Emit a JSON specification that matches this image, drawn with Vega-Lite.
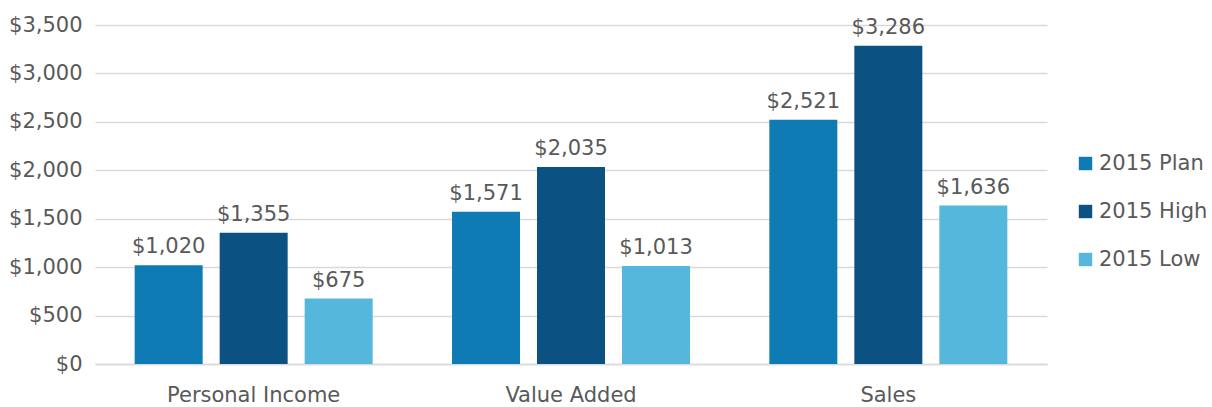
{
  "$schema": "https://vega.github.io/schema/vega-lite/v6.json",
  "width": 952,
  "height": 339,
  "autosize": "none",
  "padding": {"left": 95, "top": 25, "right": 165, "bottom": 43},
  "background": "white",
  "config": {
    "font": "DejaVu Sans",
    "view": {"stroke": null}
  },
  "data": {
    "values": [
      {"category": "Personal Income", "series": "2015 Plan", "value": 1020},
      {"category": "Personal Income", "series": "2015 High", "value": 1355},
      {"category": "Personal Income", "series": "2015 Low", "value": 675},
      {"category": "Value Added", "series": "2015 Plan", "value": 1571},
      {"category": "Value Added", "series": "2015 High", "value": 2035},
      {"category": "Value Added", "series": "2015 Low", "value": 1013},
      {"category": "Sales", "series": "2015 Plan", "value": 2521},
      {"category": "Sales", "series": "2015 High", "value": 3286},
      {"category": "Sales", "series": "2015 Low", "value": 1636}
    ]
  },
  "encoding": {
    "x": {
      "field": "category",
      "type": "nominal",
      "sort": ["Personal Income", "Value Added", "Sales"],
      "scale": {"paddingInner": 0.25, "paddingOuter": 0.125},
      "axis": {
        "title": null,
        "labelAngle": 0,
        "labelFontSize": 21,
        "labelColor": "#595959",
        "labelPadding": 20,
        "ticks": false,
        "domainColor": "#D9D9D9",
        "domainWidth": 1.5,
        "grid": false
      }
    },
    "xOffset": {
      "field": "series",
      "type": "nominal",
      "sort": ["2015 Plan", "2015 High", "2015 Low"],
      "scale": {"paddingInner": 0.2, "paddingOuter": 0}
    },
    "y": {
      "field": "value",
      "type": "quantitative",
      "scale": {"domain": [0, 3500]},
      "axis": {
        "title": null,
        "values": [0, 500, 1000, 1500, 2000, 2500, 3000, 3500],
        "format": "$,.0f",
        "labelFontSize": 21,
        "labelColor": "#595959",
        "labelPadding": 13,
        "ticks": false,
        "domain": false,
        "gridColor": "#D9D9D9",
        "gridWidth": 1.5
      }
    }
  },
  "layer": [
    {
      "mark": {"type": "bar"},
      "encoding": {
        "color": {
          "field": "series",
          "type": "nominal",
          "sort": ["2015 Plan", "2015 High", "2015 Low"],
          "scale": {
            "domain": ["2015 Plan", "2015 High", "2015 Low"],
            "range": ["#0E7BB5", "#0B5283", "#55B7DB"]
          },
          "legend": {
            "title": null,
            "orient": "none",
            "legendX": 980,
            "legendY": 128,
            "symbolType": "square",
            "symbolSize": 180,
            "symbolStrokeWidth": 0,
            "labelFontSize": 21,
            "labelColor": "#595959",
            "labelOffset": 3,
            "rowPadding": 26
          }
        }
      }
    },
    {
      "mark": {"type": "text", "baseline": "bottom", "dy": -8, "fontSize": 21, "color": "#595959"},
      "encoding": {
        "text": {"field": "value", "type": "quantitative", "format": "$,.0f"}
      }
    }
  ]
}
